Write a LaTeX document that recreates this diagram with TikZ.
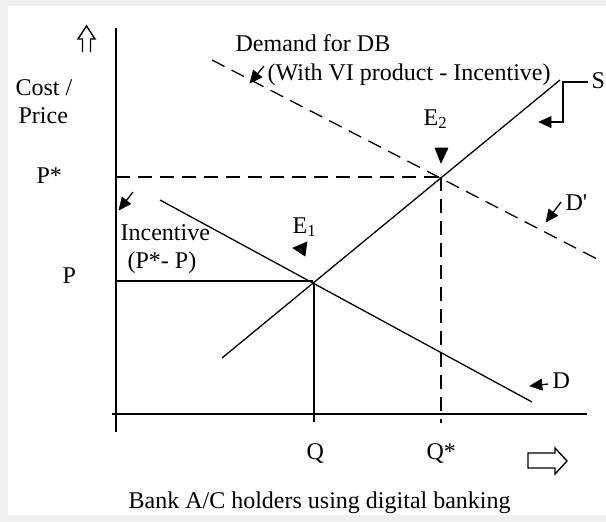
\documentclass[tikz,border=0pt]{standalone}
\usepackage{fontspec}
\setmainfont{Liberation Serif}
\usetikzlibrary{arrows.meta}
\definecolor{bggray}{HTML}{EEF0F2}
\begin{document}
\begin{tikzpicture}[x=1pt,y=-1pt,
  line width=1.3pt,
  lbl/.style={anchor=base west,inner sep=0pt,font=\fontsize{24}{28}\selectfont},
  dsh/.style={dash pattern=on 14pt off 8pt},
  headfill/.style={fill=black,draw=black,line width=0.6pt,line join=miter},
  hollow/.style={line width=1.4pt,line join=miter}
]
\useasboundingbox (0,0) rectangle (606,522);
\fill[bggray] (0,0) rectangle (606,522);
\fill[white] (8,6) rectangle (606,515);

% key points
\coordinate (ytop) at (116,28);
\coordinate (ybot) at (116,432);
\coordinate (xl) at (112,414);
\coordinate (xr) at (587,414);
\coordinate (s1) at (222,358);
\coordinate (s2) at (560,80);
\coordinate (d1) at (160,200);
\coordinate (d2) at (532,402);
\coordinate (dd1) at (212,60);
\coordinate (dd2) at (597,259);
\coordinate (E1) at (313,283);
\coordinate (E2) at (441,177);
\coordinate (pl) at (116,281);
\coordinate (pr) at (313,281);
\coordinate (psl) at (116,177);
\coordinate (qb) at (314,422);
\coordinate (qt) at (314,283);
\coordinate (qsb) at (441,423);

% axes
\draw (ytop) -- (ybot);
\draw (xl) -- (xr);

% curves
\draw (s1) -- (s2);
\draw (d1) -- (d2);
\draw[dsh] (dd1) -- (dd2);

% guide lines
\draw[dsh] (psl) -- (E2);
\draw[dsh] (E2) -- (qsb);
\draw (pl) -- (pr);
\draw (qt) -- (qb);

% axis arrows
\draw[hollow] (82.5,52) -- (82.5,39) -- (78,39) -- (86.5,26) -- (95,39) -- (90.5,39) -- (90.5,52);
\draw[hollow] (528,453) -- (555,453) -- (555,448) -- (567,461) -- (555,474) -- (555,468) -- (528,468) -- cycle;

% labels
\node[lbl] (cost) at (15,95) {Cost /};
\node[lbl] (price) at (18,123) {Price};
\node[lbl] (pstar) at (36,183) {P*};
\node[lbl] (plab) at (62,283) {P};
\node[lbl] (inc) at (120,240) {Incentive};
\node[lbl] (incd) at (127,268) {(P*- P)};
\node[lbl] (dem) at (235,52) {Demand for DB};
\node[lbl] (demd) at (267,80) {(With VI product - Incentive)};
\node[lbl] (e2) at (423,125) {E\textsubscript{2}};
\node[lbl] (e1) at (292,233) {E\textsubscript{1}};
\node[lbl] (dprime) at (565,210) {D\textquotesingle};
\node[lbl] (dlab) at (552,388) {D};
\node[lbl] (slab) at (591,88) {S};
\node[lbl] (qlab) at (306,459) {Q};
\node[lbl] (qslab) at (426,459) {Q*};
\node[lbl] (xtitle) at (128,508) {Bank A/C holders using digital banking};

% pointer arrows (shaft + filled head)
\draw (264,66) -- (257.6,73.7);
\path[headfill] (250,83) -- (261.9,77.2) -- (253.4,70.2) -- cycle;
\draw (133,192) -- (126.4,200.5);
\path[headfill] (119,210) -- (130.7,203.9) -- (122.1,197.1) -- cycle;
\draw (561,202) -- (553.2,212.4);
\path[headfill] (546,222) -- (557.6,215.7) -- (548.8,209.1) -- cycle;
\draw (548,384) -- (541.9,384.7);
\path[headfill] (530,386) -- (542.5,390.2) -- (541.3,379.2) -- cycle;
\draw (588,82) -- (563,82) -- (563,122) -- (551,122);
\path[headfill] (539,122) -- (551,116.5) -- (551,127.5) -- cycle;
\path[headfill] (435,148) -- (448,148) -- (441,163) -- cycle;
\path[headfill] (307,242) -- (305,256) -- (293,248) -- cycle;
\end{tikzpicture}
\end{document}
